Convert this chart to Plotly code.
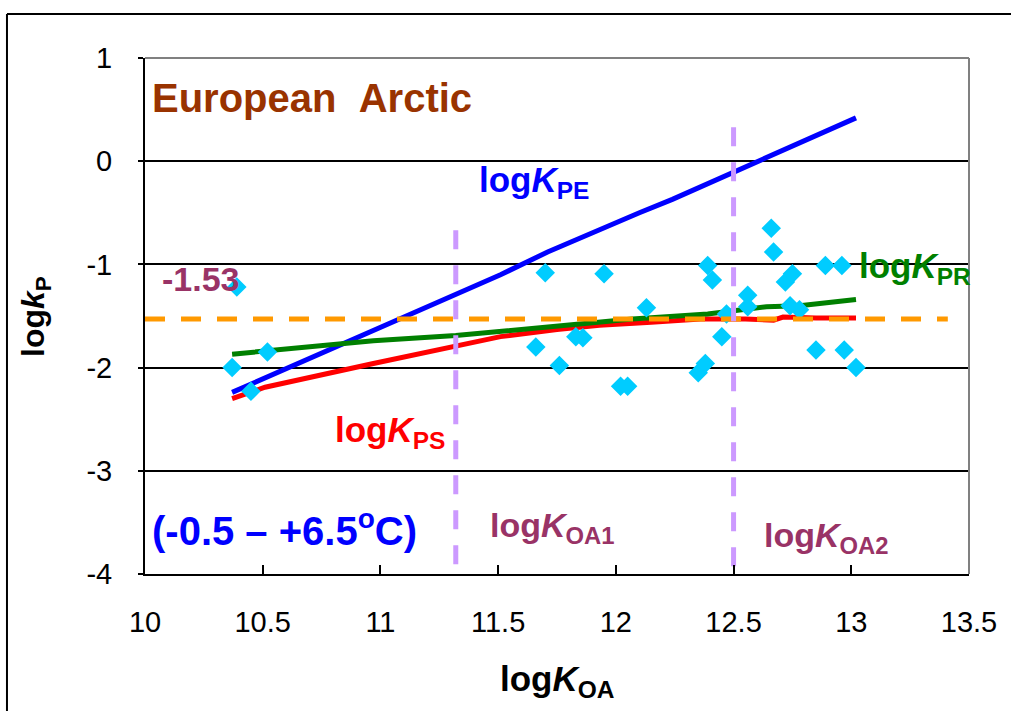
import plotly.graph_objects as go

# Observed partition coefficients (log K_OA vs log k_P)
obs_logkoa = [10.37, 10.39, 10.45, 10.52, 11.66, 11.70, 11.76, 11.83, 11.86, 11.95,
              12.02, 12.05, 12.13, 12.35, 12.38, 12.39, 12.41, 12.45, 12.47, 12.56,
              12.56, 12.66, 12.67, 12.72, 12.74, 12.75, 12.78, 12.85, 12.89, 12.96,
              12.97, 13.02]
obs_logkp = [-2.00, -1.22, -2.23, -1.85, -1.80, -1.08, -1.98, -1.70, -1.71, -1.09,
             -2.18, -2.18, -1.42, -2.05, -1.96, -1.01, -1.15, -1.70, -1.48, -1.30,
             -1.41, -0.65, -0.88, -1.17, -1.40, -1.09, -1.44, -1.83, -1.01, -1.01,
             -1.83, -2.00]

# Model curves
pe_x = [10.37, 10.51, 10.97, 11.32, 11.51, 11.71, 11.93, 12.10, 12.24,
        12.36, 12.50, 12.61, 12.74, 12.87, 13.02]
pe_y = [-2.24, -2.10, -1.63, -1.28, -1.10, -0.88, -0.66, -0.50, -0.37,
        -0.25, -0.10, 0.01, 0.14, 0.27, 0.42]

ps_x = [10.37, 10.51, 10.97, 11.32, 11.51, 11.75, 11.93, 12.15, 12.36,
        12.55, 12.67, 12.71, 12.85, 13.02]
ps_y = [-2.30, -2.19, -1.96, -1.79, -1.70, -1.63, -1.59, -1.56, -1.53,
        -1.53, -1.54, -1.51, -1.52, -1.52]

pr_x = [10.37, 10.97, 11.32, 11.51, 11.79, 12.07, 12.39, 12.50, 12.64, 12.78, 13.02]
pr_y = [-1.87, -1.74, -1.69, -1.65, -1.59, -1.53, -1.48, -1.45, -1.41, -1.40, -1.34]

# Threshold lines
kp_threshold = -1.53
threshold_x = [10.0, 13.41]
koa1 = 11.32
koa2 = 12.50
koa1_top = -0.67
koa2_top = 0.33
y_bottom = -4.0

x_ticks = [10, 10.5, 11, 11.5, 12, 12.5, 13, 13.5]
x_ticktext = ["10", "10.5", "11", "11.5", "12", "12.5", "13", "13.5"]
y_ticks = [1, 0, -1, -2, -3, -4]
y_ticktext = ["1", "0", "-1", "-2", "-3", "-4"]

FONT = "Liberation Sans, Arial, sans-serif"
LW = 5

fig = go.Figure()

fig.add_trace(go.Scatter(x=pe_x, y=pe_y, mode="lines",
                         line=dict(color="#0000FF", width=LW)))
fig.add_trace(go.Scatter(x=ps_x, y=ps_y, mode="lines",
                         line=dict(color="#FF0000", width=LW)))
fig.add_trace(go.Scatter(x=pr_x, y=pr_y, mode="lines",
                         line=dict(color="#008000", width=LW)))
fig.add_trace(go.Scatter(x=obs_logkoa, y=obs_logkp, mode="markers",
                         marker=dict(symbol="diamond", size=15, color="#00CCFF",
                                     line=dict(width=0))))
fig.add_trace(go.Scatter(x=threshold_x, y=[kp_threshold, kp_threshold], mode="lines",
                         line=dict(color="#FF9900", width=LW, dash="20px,16px")))
fig.add_trace(go.Scatter(x=[koa1, koa1], y=[koa1_top, y_bottom], mode="lines",
                         line=dict(color="#CC99FF", width=LW, dash="19px,16px")))
fig.add_trace(go.Scatter(x=[koa2, koa2], y=[koa2_top, y_bottom], mode="lines",
                         line=dict(color="#CC99FF", width=LW, dash="19px,16px")))

def label(x, y, text, color, size, anchor="left"):
    fig.add_annotation(x=x, y=y, xref="x", yref="y", text=text, showarrow=False,
                       xanchor=anchor, yanchor="middle",
                       font=dict(family=FONT, size=size, color=color))

label(10.02, 0.61, "<b>European\u00a0\u00a0Arctic</b>", "#993300", 40)
label(11.41, -0.20, "<b>log<i>K</i><sub>PE</sub></b>", "#0000FF", 35)
label(10.065, -1.14, "<b>-1.53</b>", "#993366", 34)
label(13.025, -1.03, "<b>log<i>K</i><sub>PR</sub></b>", "#008000", 35)
label(10.80, -2.62, "<b>log<i>K</i><sub>PS</sub></b>", "#FF0000", 35)
label(10.02, -3.55, "<b>(-0.5 \u2013 +6.5<sup>o</sup>C)</b>", "#0000FF", 40)
label(11.455, -3.55, "<b>log<i>K</i><sub>OA1</sub></b>", "#993366", 34)
label(12.62, -3.65, "<b>log<i>K</i><sub>OA2</sub></b>", "#993366", 34)

# Axis titles
fig.add_annotation(x=0.5, y=-0.207, xref="paper", yref="paper", showarrow=False,
                   text="<b>log<i>K</i><sub>OA</sub></b>", xanchor="center", yanchor="middle",
                   font=dict(family=FONT, size=35, color="#000000"))
fig.add_annotation(x=-0.1335, y=0.5, xref="paper", yref="paper", showarrow=False,
                   text="<b>log<i>k</i><sub>P</sub></b>", textangle=-90,
                   xanchor="center", yanchor="middle",
                   font=dict(family=FONT, size=32, color="#000000"))

# Plot-area top/right border (grey) and outer chart frame
fig.add_shape(type="line", xref="paper", yref="paper", x0=0, x1=1, y0=1, y1=1,
              line=dict(color="#808080", width=2))
fig.add_shape(type="line", xref="paper", yref="paper", x0=1, x1=1, y0=0, y1=1,
              line=dict(color="#808080", width=2))
fig.add_shape(type="line", xref="paper", yref="paper", x0=-0.1675, x1=1.1, y0=1.0853, y1=1.0853,
              line=dict(color="#000000", width=2))
fig.add_shape(type="line", xref="paper", yref="paper", x0=-0.1675, x1=-0.1675, y0=-0.3, y1=1.0853,
              line=dict(color="#000000", width=2))

fig.update_xaxes(range=[10, 13.5], tickvals=x_ticks, ticktext=x_ticktext,
                 showgrid=False, zeroline=False,
                 showline=True, linecolor="#000000", linewidth=2,
                 ticks="inside", ticklen=9, tickwidth=1.5, tickcolor="#000000",
                 ticklabelstandoff=21,
                 tickfont=dict(family=FONT, size=29, color="#000000"))
fig.update_yaxes(range=[-4, 1], tickvals=y_ticks, ticktext=y_ticktext,
                 showgrid=True, gridcolor="#000000", gridwidth=1.5, zeroline=False,
                 showline=True, linecolor="#000000", linewidth=2,
                 ticks="outside", ticklen=5, tickwidth=1.5, tickcolor="#000000",
                 ticklabelstandoff=20,
                 tickfont=dict(family=FONT, size=29, color="#000000"))

fig.update_layout(width=1011, height=711, showlegend=False,
                  margin=dict(l=145, r=42, t=58, b=137),
                  paper_bgcolor="#FFFFFF", plot_bgcolor="#FFFFFF",
                  hovermode=False)

fig.write_html("out.html")
